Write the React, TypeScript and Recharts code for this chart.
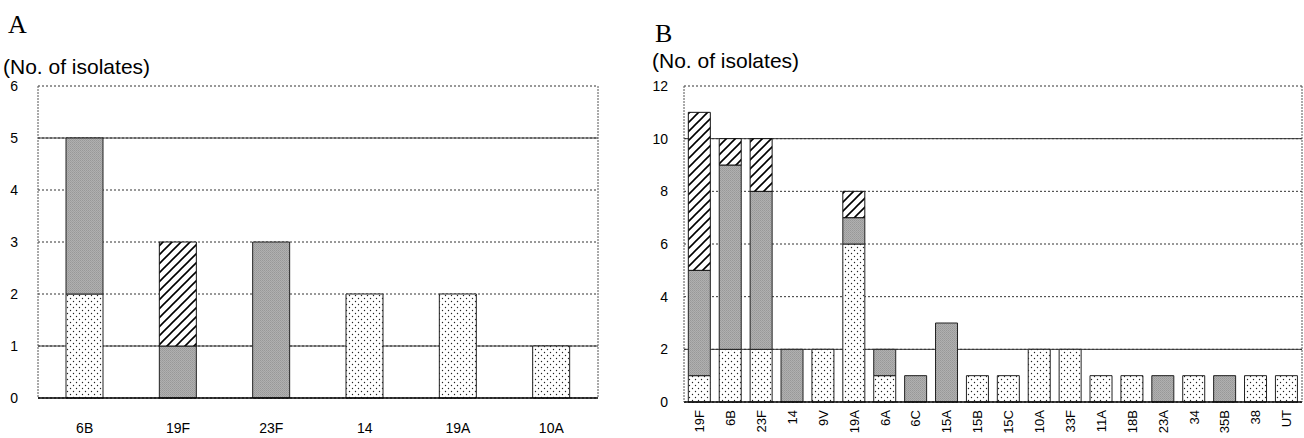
import React from "react";
import { BarChart, Bar, XAxis, YAxis, CartesianGrid } from "recharts";

const categoriesA = ["6B", "19F", "23F", "14", "19A", "10A"];
const dottedA = [2, 0, 0, 2, 2, 1];
const grayA = [3, 1, 3, 0, 0, 0];
const hatchedA = [0, 2, 0, 0, 0, 0];
const ticksA = [0, 1, 2, 3, 4, 5, 6];
const solidLinesA = [5, 1];

const categoriesB = ["19F", "6B", "23F", "14", "9V", "19A", "6A", "6C", "15A", "15B", "15C", "10A", "33F", "11A", "18B", "23A", "34", "35B", "38", "UT"];
const dottedB = [1, 2, 2, 0, 2, 6, 1, 0, 0, 1, 1, 2, 2, 1, 1, 0, 1, 0, 1, 1];
const grayB = [4, 7, 6, 2, 0, 1, 1, 1, 3, 0, 0, 0, 0, 0, 0, 1, 0, 1, 0, 0];
const hatchedB = [6, 1, 2, 0, 0, 1, 0, 0, 0, 0, 0, 0, 0, 0, 0, 0, 0, 0, 0, 0];
const ticksB = [0, 2, 4, 6, 8, 10, 12];
const solidLinesB = [10, 2];

const dataA = categoriesA.map((c, i) => ({ name: c, dotted: dottedA[i], gray: grayA[i], hatched: hatchedA[i] }));
const dataB = categoriesB.map((c, i) => ({ name: c, dotted: dottedB[i], gray: grayB[i], hatched: hatchedB[i] }));

const SANS = "'Liberation Sans', Arial, sans-serif";
const SERIF = "'Liberation Serif', 'Times New Roman', serif";

const RotatedTick = (props: any) => {
  const { x, y, payload } = props;
  return (
    <text
      x={x}
      y={y}
      transform={`rotate(-90, ${x}, ${y})`}
      textAnchor="end"
      dy="0.36em"
      fontSize={13}
      fontFamily={SANS}
      fill="#000"
    >
      {payload.value}
    </text>
  );
};

const Patterns = () => (
  <svg width={0} height={0} style={{ position: "absolute" }}>
    <defs>
      <pattern id="dotPat" patternUnits="userSpaceOnUse" width={6} height={6}>
        <rect width={6} height={6} fill="#fff" />
        <circle cx={1.5} cy={1.5} r={0.7} fill="#222" />
        <circle cx={4.5} cy={4.5} r={0.7} fill="#222" />
      </pattern>
      <pattern id="hatchPat" patternUnits="userSpaceOnUse" width={9} height={9}>
        <rect width={9} height={9} fill="#fff" />
        <path d="M-1,10 L10,-1 M-3,3 L3,-3 M6,12 L12,6" stroke="#000" strokeWidth={1.6} />
      </pattern>
      <pattern id="grayPat" patternUnits="userSpaceOnUse" width={2} height={2}>
        <rect width={2} height={2} fill="#b0b0b0" />
        <rect width={1} height={1} fill="#989898" />
        <rect x={1} y={1} width={1} height={1} fill="#a0a0a0" />
      </pattern>
    </defs>
  </svg>
);

function Panel(props: {
  data: any[];
  width: number;
  yWidth: number;
  xHeight: number;
  ticks: number[];
  max: number;
  solid: number[];
  gap: string;
  rotated: boolean;
}) {
  const { data, width, yWidth, xHeight, ticks, max, solid, gap, rotated } = props;
  return (
    <BarChart
      width={width}
      height={438}
      data={data}
      margin={{ top: 86, right: 1, bottom: 0, left: 0 }}
      barCategoryGap={gap}
    >
      <CartesianGrid vertical={false} stroke="#333" strokeDasharray="2 2" />
      <CartesianGrid vertical={false} horizontalValues={solid} stroke="#333" strokeWidth={1} />
      <XAxis
        dataKey="name"
        height={xHeight}
        axisLine={{ stroke: "#000", strokeWidth: 1.5 }}
        tickLine={false}
        interval={0}
        tickMargin={rotated ? 2 : 19}
        tick={rotated ? <RotatedTick /> : { fontSize: 14, fontFamily: SANS, fill: "#000" }}
      />
      <YAxis
        width={yWidth}
        domain={[0, max]}
        ticks={ticks}
        interval={0}
        axisLine={{ stroke: "#555", strokeDasharray: "2 1" }}
        tickLine={false}
        tickMargin={rotated ? 10 : 14}
        tick={{ fontSize: 14, fontFamily: SANS, fill: "#000" }}
      />
      <YAxis
        yAxisId="r"
        orientation="right"
        width={1}
        domain={[0, max]}
        tick={false}
        tickLine={false}
        axisLine={{ stroke: "#555", strokeDasharray: "2 1" }}
      />
      <Bar dataKey="dotted" stackId="s" fill="url(#dotPat)" stroke="#222" strokeWidth={1} isAnimationActive={false} />
      <Bar dataKey="gray" stackId="s" fill="url(#grayPat)" stroke="#222" strokeWidth={1} isAnimationActive={false} />
      <Bar dataKey="hatched" stackId="s" fill="url(#hatchPat)" stroke="#111" strokeWidth={1} isAnimationActive={false} />
    </BarChart>
  );
}

export default function App() {
  return (
    <div style={{ position: "absolute", left: 0, top: 0, width: 1304, height: 438, overflow: "hidden", background: "#fff" }}>
      <Patterns />
      <div style={{ position: "absolute", left: 8, top: 12, fontFamily: SERIF, fontSize: 26, lineHeight: "26px" }}>A</div>
      <div style={{ position: "absolute", left: 3, top: 56, fontFamily: SANS, fontSize: 21, lineHeight: "21px", whiteSpace: "nowrap" }}>(No. of isolates)</div>
      <div style={{ position: "absolute", left: 655, top: 21, fontFamily: SERIF, fontSize: 26, lineHeight: "26px" }}>B</div>
      <div style={{ position: "absolute", left: 652, top: 50, fontFamily: SANS, fontSize: 21, lineHeight: "21px", whiteSpace: "nowrap" }}>(No. of isolates)</div>
      <div style={{ position: "absolute", left: 0, top: 0 }}>
        <Panel data={dataA} width={600} yWidth={38} xHeight={40} ticks={ticksA} max={6} solid={solidLinesA} gap="30%" rotated={false} />
      </div>
      <div style={{ position: "absolute", left: 640, top: 0 }}>
        <Panel data={dataB} width={664} yWidth={44} xHeight={36} ticks={ticksB} max={12} solid={solidLinesB} gap="14%" rotated={true} />
      </div>
    </div>
  );
}
